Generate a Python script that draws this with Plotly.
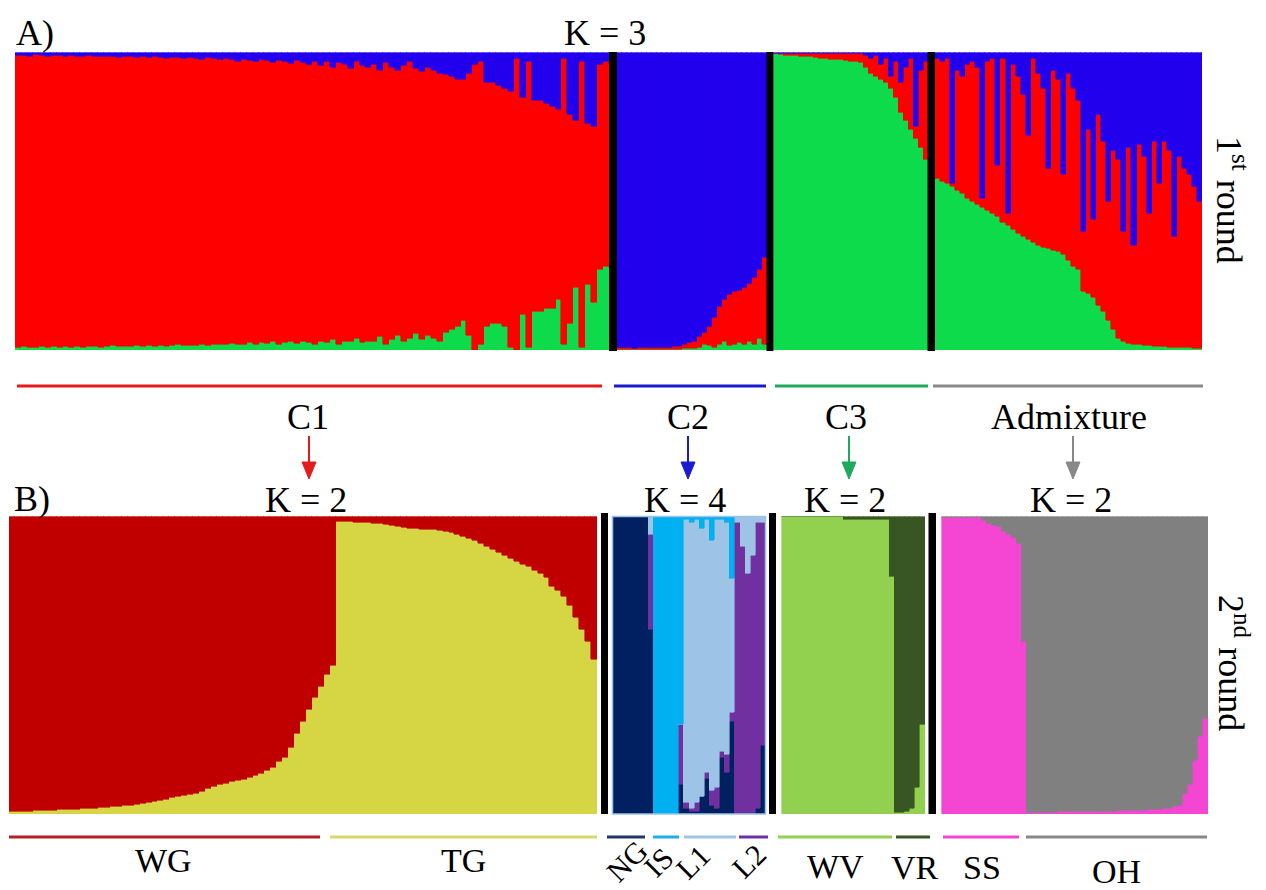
import plotly.graph_objects as go

# the page body has an 8 px margin, so the figure is 8 px smaller and positions are shifted
OFF = 8
W, H = 1266 - OFF, 890 - OFF

# ---------------- Round 1 (K = 3) : admixture proportions per individual ----------------
# C1 group : blue (top) and green (bottom) shares, red = remainder
c1_blue = [0.010, 0.010, 0.012, 0.008, 0.010, 0.012, 0.010, 0.011, 0.013, 0.010,
           0.012, 0.014, 0.010, 0.012, 0.015, 0.013, 0.012, 0.016, 0.014, 0.015,
           0.016, 0.015, 0.018, 0.014, 0.017, 0.020, 0.016, 0.018, 0.020, 0.017,
           0.020, 0.022, 0.018, 0.021, 0.025, 0.020, 0.024, 0.030, 0.022, 0.026,
           0.030, 0.025, 0.028, 0.035, 0.026, 0.030, 0.038, 0.028, 0.032, 0.040,
           0.030, 0.045, 0.030, 0.050, 0.035, 0.040, 0.055, 0.030, 0.045, 0.050,
           0.040, 0.060, 0.035, 0.050, 0.060, 0.045, 0.030, 0.055, 0.065, 0.050,
           0.060, 0.070, 0.075, 0.080, 0.090, 0.090, 0.070, 0.040, 0.030, 0.100,
           0.100, 0.110, 0.120, 0.130, 0.020, 0.150, 0.030, 0.160, 0.160, 0.170,
           0.180, 0.190, 0.020, 0.210, 0.230, 0.030, 0.240, 0.250, 0.040, 0.030]
c1_green = [0.010, 0.012, 0.010, 0.008, 0.011, 0.010, 0.012, 0.009, 0.011, 0.010,
            0.012, 0.010, 0.013, 0.011, 0.010, 0.012, 0.014, 0.011, 0.013, 0.012,
            0.014, 0.012, 0.015, 0.013, 0.016, 0.012, 0.015, 0.017, 0.014, 0.016,
            0.015, 0.018, 0.016, 0.020, 0.017, 0.019, 0.022, 0.018, 0.020, 0.024,
            0.020, 0.025, 0.022, 0.028, 0.020, 0.026, 0.030, 0.022, 0.028, 0.025,
            0.020, 0.030, 0.025, 0.035, 0.020, 0.030, 0.028, 0.040, 0.025, 0.030,
            0.030, 0.045, 0.020, 0.035, 0.050, 0.030, 0.040, 0.055, 0.035, 0.050,
            0.040, 0.030, 0.060, 0.070, 0.080, 0.100, 0.050, 0.000, 0.020, 0.080,
            0.090, 0.090, 0.080, 0.010, 0.000, 0.120, 0.010, 0.130, 0.130, 0.140,
            0.140, 0.170, 0.020, 0.090, 0.210, 0.010, 0.220, 0.160, 0.270, 0.280]
# C2 group : red and green shares, blue = remainder
c2_red = [0.005, 0.005, 0.005, 0.004, 0.005, 0.006, 0.005, 0.005, 0.006, 0.006,
          0.007, 0.008, 0.010, 0.015, 0.020, 0.025, 0.035, 0.040, 0.065, 0.100,
          0.125, 0.140, 0.170, 0.177, 0.175, 0.190, 0.195, 0.225, 0.230, 0.290]
c2_green = [0.002, 0.002, 0.002, 0.002, 0.002, 0.002, 0.002, 0.003, 0.003, 0.003,
            0.003, 0.003, 0.003, 0.004, 0.005, 0.005, 0.010, 0.020, 0.015, 0.010,
            0.020, 0.030, 0.015, 0.020, 0.025, 0.020, 0.030, 0.020, 0.040, 0.020]
# C3 group : green and blue shares, red = remainder
c3_green = [0.995, 0.993, 0.990, 0.990, 0.990, 0.988, 0.985, 0.985, 0.983, 0.980,
            0.980, 0.978, 0.975, 0.975, 0.972, 0.970, 0.970, 0.965, 0.950, 0.930,
            0.920, 0.910, 0.900, 0.880, 0.850, 0.800, 0.770, 0.740, 0.710, 0.680, 0.640]
c3_blue = [0.002, 0.002, 0.002, 0.002, 0.002, 0.002, 0.002, 0.002, 0.003, 0.002,
           0.003, 0.002, 0.003, 0.003, 0.002, 0.003, 0.003, 0.004, 0.010, 0.020,
           0.010, 0.040, 0.020, 0.080, 0.030, 0.100, 0.050, 0.020, 0.250, 0.060, 0.030]
# Admixture group : green and blue shares, red = remainder
adm_green = [0.575, 0.565, 0.560, 0.550, 0.535, 0.525, 0.510, 0.500, 0.490, 0.480,
             0.470, 0.460, 0.450, 0.430, 0.420, 0.405, 0.390, 0.380, 0.370, 0.360,
             0.350, 0.345, 0.340, 0.335, 0.330, 0.320, 0.300, 0.280, 0.270, 0.195,
             0.190, 0.175, 0.150, 0.130, 0.100, 0.070, 0.040, 0.030, 0.022, 0.020,
             0.018, 0.016, 0.015, 0.013, 0.012, 0.011, 0.010, 0.009, 0.008, 0.008,
             0.007, 0.006, 0.006]
adm_blue = [0.020, 0.030, 0.020, 0.440, 0.060, 0.080, 0.040, 0.030, 0.050, 0.490,
            0.030, 0.020, 0.380, 0.020, 0.540, 0.040, 0.080, 0.140, 0.280, 0.020,
            0.070, 0.120, 0.390, 0.060, 0.090, 0.410, 0.070, 0.120, 0.160, 0.600,
            0.260, 0.560, 0.210, 0.300, 0.500, 0.330, 0.360, 0.600, 0.320, 0.650,
            0.310, 0.350, 0.540, 0.300, 0.440, 0.300, 0.330, 0.620, 0.350, 0.390,
            0.410, 0.450, 0.500]

# ---------------- Round 2 ----------------
# C1 -> K = 2 : WG individuals (yellow share), TG individuals (dark-red share)
wg_yellow = [0.008, 0.009, 0.010, 0.010, 0.011, 0.012, 0.012, 0.013, 0.014, 0.014,
             0.015, 0.016, 0.017, 0.018, 0.020, 0.021, 0.022, 0.024, 0.025, 0.027,
             0.030, 0.032, 0.035, 0.038, 0.041, 0.045, 0.050, 0.055, 0.058, 0.062,
             0.066, 0.070, 0.077, 0.085, 0.092, 0.098, 0.104, 0.108, 0.112, 0.116,
             0.122, 0.130, 0.136, 0.145, 0.158, 0.175, 0.190, 0.225, 0.270, 0.310,
             0.350, 0.390, 0.430, 0.470, 0.500]
tg_red = [0.017, 0.017, 0.018, 0.019, 0.020, 0.021, 0.022, 0.023, 0.026, 0.030,
          0.035, 0.037, 0.039, 0.041, 0.043, 0.044, 0.045, 0.048, 0.052, 0.055,
          0.060, 0.067, 0.074, 0.080, 0.090, 0.100, 0.110, 0.120, 0.130, 0.140,
          0.150, 0.160, 0.167, 0.180, 0.190, 0.205, 0.235, 0.250, 0.270, 0.300,
          0.340, 0.380, 0.420, 0.480]
# C2 -> K = 4 : NG (navy), L2 (purple), IS (cyan); L1 (light blue) = remainder
k4_navy = [1.00, 1.00, 1.00, 1.00, 1.00, 1.00, 1.00, 0.62, 0.00, 0.00,
           0.00, 0.00, 0.00, 0.10, 0.02, 0.01, 0.01, 0.06, 0.12, 0.03,
           0.02, 0.19, 0.14, 0.31, 0.00, 0.00, 0.00, 0.00, 0.02, 0.23]
k4_purple = [0.00, 0.00, 0.00, 0.00, 0.00, 0.00, 0.00, 0.32, 0.00, 0.00,
             0.00, 0.00, 0.00, 0.20, 0.02, 0.01, 0.03, 0.00, 0.02, 0.05,
             0.07, 0.02, 0.06, 0.03, 0.98, 0.90, 0.81, 0.87, 0.96, 0.75]
k4_cyan = [0.00, 0.00, 0.00, 0.00, 0.00, 0.00, 0.00, 0.00, 1.00, 1.00,
           1.00, 1.00, 1.00, 0.70, 0.01, 0.02, 0.01, 0.04, 0.01, 0.08,
           0.01, 0.01, 0.02, 0.21, 0.00, 0.00, 0.00, 0.00, 0.00, 0.00]
# C3 -> K = 2 : light-green share (WV), dark green (VR) = remainder
k2c3_light = [1.000, 1.000, 1.000, 1.000, 1.000, 1.000, 1.000, 1.000, 1.000, 1.000,
              1.000, 1.000, 0.990, 0.990, 0.990, 0.990, 0.990, 0.990, 0.990, 0.990,
              0.990, 0.800, 0.005, 0.005, 0.010, 0.020, 0.090, 0.300]
# Admixture -> K = 2 : pink share (SS), grey (OH) = remainder
k2adm_pink = [0.995, 0.995, 0.995, 0.995, 0.995, 0.995, 0.995, 0.995, 0.985, 0.975,
              0.970, 0.965, 0.950, 0.940, 0.930, 0.910, 0.580,
              0.005, 0.005, 0.005, 0.006, 0.006, 0.006, 0.007, 0.007, 0.007, 0.008,
              0.008, 0.008, 0.009, 0.009, 0.009, 0.010, 0.010, 0.010, 0.011, 0.011,
              0.012, 0.012, 0.013, 0.013, 0.014, 0.015, 0.016, 0.018, 0.020, 0.025,
              0.030, 0.070, 0.100, 0.180, 0.260, 0.320]

RED, BLUE, GREEN = "#FF0000", "#2200EE", "#0DDB4B"
DRED, YEL = "#C00000", "#D6D645"
NAVY, CYAN, LSTEEL, PURP = "#002060", "#00B0F0", "#9DC3E6", "#7030A0"
LGRN, DGRN = "#92D050", "#375623"
PINK, GREY = "#F445D3", "#808080"


def rest(*cols):
    return [max(0.0, 1.0 - sum(v)) for v in zip(*cols)]


def X(px):
    return (px - OFF) / W


def Y(py):
    return 1 - (py - OFF) / H


fig = go.Figure()
panel_no = [0]


def add_panel(comps, colors, x0, x1, y0, y1):
    panel_no[0] += 1
    i = panel_no[0]
    n = len(comps[0])
    xa = "x" if i == 1 else f"x{i}"
    ya = "y" if i == 1 else f"y{i}"
    for vals, col in zip(comps, colors):
        fig.add_trace(go.Bar(x=list(range(n)), y=vals, width=1.0,
                             marker=dict(color=col, line=dict(color=col, width=0.6)),
                             xaxis=xa, yaxis=ya, showlegend=False, hoverinfo="skip"))
    fig.layout["xaxis" if i == 1 else f"xaxis{i}"] = dict(
        domain=[X(x0), X(x1)], range=[-0.5, n - 0.5], visible=False, anchor=ya, fixedrange=True)
    fig.layout["yaxis" if i == 1 else f"yaxis{i}"] = dict(
        domain=[Y(y1), Y(y0)], range=[0, 1], visible=False, anchor=xa, fixedrange=True)


TOP0, TOP1 = 52.5, 350
# Round 1
add_panel([c1_green, rest(c1_blue, c1_green), c1_blue], [GREEN, RED, BLUE], 15, 609, TOP0, TOP1)
add_panel([c2_green, c2_red, rest(c2_red, c2_green)], [GREEN, RED, BLUE], 617, 767, TOP0, TOP1)
add_panel([c3_green, rest(c3_green, c3_blue), c3_blue], [GREEN, RED, BLUE], 773.5, 928, TOP0, TOP1)
add_panel([adm_green, rest(adm_green, adm_blue), adm_blue], [GREEN, RED, BLUE], 935, 1202, TOP0, TOP1)

# Round 2
BOT0, BOT1 = 516.5, 814
p1_yellow = wg_yellow + [1 - r for r in tg_red]
add_panel([p1_yellow, rest(p1_yellow)], [YEL, DRED], 9, 597, BOT0, BOT1)
add_panel([k4_navy, k4_purple, rest(k4_navy, k4_purple, k4_cyan), k4_cyan],
          [NAVY, PURP, LSTEEL, CYAN], 612.5, 765.5, BOT0, BOT1)
add_panel([k2c3_light, rest(k2c3_light)], [LGRN, DGRN], 781.5, 925, BOT0, BOT1)
add_panel([k2adm_pink, rest(k2adm_pink)], [PINK, GREY], 941.5, 1208, BOT0, BOT1)

shapes = []
# black separators
for x0, x1, y0, y1 in [(609, 617, 52, 351), (766.5, 773.5, 52, 351), (927.5, 935, 52, 351),
                       (601, 608, 513, 814), (769, 776, 513, 814), (928.5, 936, 513, 814)]:
    shapes.append(dict(type="rect", xref="paper", yref="paper", x0=X(x0), x1=X(x1),
                       y0=Y(y1), y1=Y(y0), fillcolor="black", line=dict(width=0), layer="above"))
# thin border around the K=4 panel
shapes.append(dict(type="rect", xref="paper", yref="paper", x0=X(612.5), x1=X(765.5),
                   y0=Y(814), y1=Y(516.5), line=dict(color=LSTEEL, width=1.5), layer="above"))
# group bars
for x0, x1, y, col in [(17, 602, 386, "#E41A1C"), (614, 766, 386, "#1A1AD0"),
                       (775, 928, 386, "#1DAA5E"), (933, 1203, 386, "#888888"),
                       (9, 320, 837, "#B81C24"), (330, 597, 837, "#D8D868"),
                       (607, 645, 837, "#1F3864"), (653, 679, 837, "#1CAFE8"),
                       (684, 736, 837, "#9DC3E6"), (739, 768, 837, "#7030A0"),
                       (778, 892, 837, "#92D050"), (896, 930, 837, "#375623"),
                       (943, 1019, 837, "#F046D0"), (1026, 1207, 837, "#888888")]:
    shapes.append(dict(type="line", xref="paper", yref="paper", x0=X(x0), x1=X(x1),
                       y0=Y(y), y1=Y(y), line=dict(color=col, width=3)))

# arrows from round-1 groups to round-2 panels (shaft + triangular head)
for x, col in [(309, "#E41A1C"), (688, "#1A1AD0"), (849, "#1DAA5E"), (1073, "#888888")]:
    shapes.append(dict(type="line", xref="paper", yref="paper", x0=X(x), x1=X(x),
                       y0=Y(436), y1=Y(466), line=dict(color=col, width=2)))
    shapes.append(dict(type="path", xref="paper", yref="paper",
                       path=f"M {X(x - 7)} {Y(462)} L {X(x + 7)} {Y(462)} L {X(x)} {Y(479)} Z",
                       fillcolor=col, line=dict(color=col, width=1)))

ann = []
FONT = "Liberation Serif, Times New Roman, serif"


def txt(s, x, y, size=36, angle=0, xanchor="center"):
    ann.append(dict(text=s, x=X(x), y=Y(y), xref="paper", yref="paper", showarrow=False,
                    xanchor=xanchor, yanchor="middle", textangle=angle,
                    font=dict(family=FONT, size=size, color="black")))


txt("A)", 14, 33, xanchor="left")
txt("K = 3", 605, 33)
txt("1<sup>st</sup> round", 1232, 200, angle=90)
for s, x in [("C1", 308), ("C2", 688), ("C3", 846), ("Admixture", 1069)]:
    txt(s, x, 417)
txt("B)", 12, 499, xanchor="left")
for s, x in [("K = 2", 306), ("K = 4", 685), ("K = 2", 845), ("K = 2", 1071)]:
    txt(s, x, 500)
txt("2<sup>nd</sup> round", 1234, 663, angle=90)
for s, x, y in [("WG", 163, 860), ("TG", 463, 860), ("WV", 836, 866), ("VR", 915, 867),
                ("SS", 982, 867), ("OH", 1116, 871)]:
    txt(s, x, y, size=34)
for s, x, y in [("NG", 626, 861), ("IS", 658, 862), ("L1", 692, 862), ("L2", 748, 861)]:
    txt(s, x, y, size=30, angle=-45)

fig.update_layout(width=W, height=H, margin=dict(l=0, r=0, t=0, b=0),
                  paper_bgcolor="white", plot_bgcolor="white",
                  barmode="stack", bargap=0, shapes=shapes, annotations=ann,
                  font=dict(family=FONT))

fig.write_html("out.html")
